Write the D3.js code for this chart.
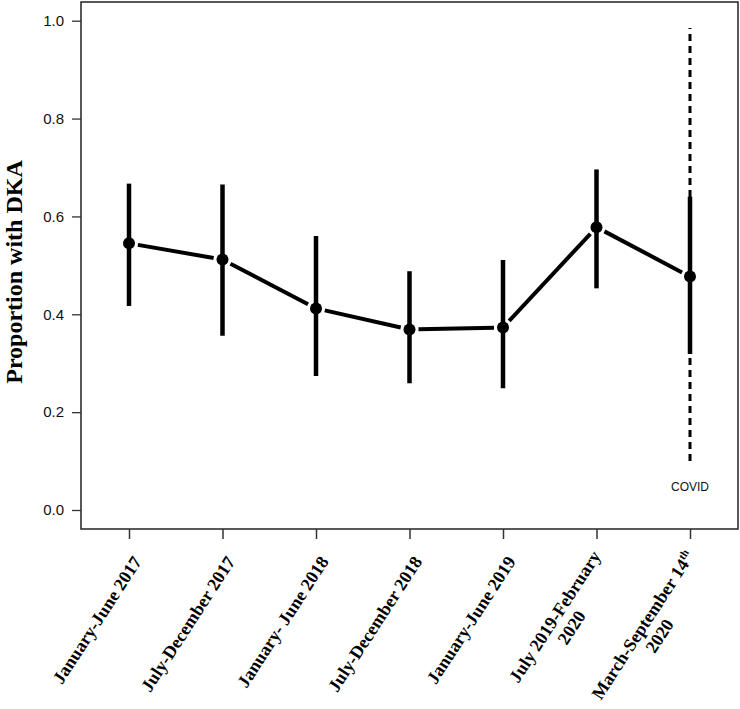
<!DOCTYPE html>
<html><head><meta charset="utf-8">
<script src="https://cdn.jsdelivr.net/npm/d3@7"></script>
<style>body{margin:0;background:#fff}</style>
</head><body>
<svg id="c" width="740" height="709"></svg>
<script>
const categories = ["January-June 2017","July-December 2017","January- June 2018","July-December 2018","January-June 2019","July 2019-February 2020","March-September 14th 2020"];
const labelLines = [["January-June 2017"],["July-December 2017"],["January- June 2018"],["July-December 2018"],["January-June 2019"],["July 2019-February","2020"],["March-September 14|th","2020"]];
const proportion = [0.545,0.512,0.412,0.369,0.373,0.578,0.477];
const lower = [0.417,0.356,0.274,0.259,0.249,0.453,0.319];
const upper = [0.667,0.665,0.560,0.488,0.511,0.696,0.640];
const yTicks = [0.0,0.2,0.4,0.6,0.8,1.0];
const covidRange = [0.10,0.985];
const covidLabel = "COVID";
const yTitle = "Proportion with DKA";

const svg = d3.select("#c");
const box = {l:81, r:738, t:2, b:529};
const x = d3.scalePoint().domain(categories).range([129,690]);
const y = d3.scaleLinear().domain([0,1]).range([510,20.7]);

// box
svg.append("rect").attr("x",box.l).attr("y",box.t).attr("width",box.r-box.l).attr("height",box.b-box.t)
  .attr("fill","none").attr("stroke","#222").attr("stroke-width",1.5);

// y axis
const yAxis = d3.axisLeft(y).tickValues(yTicks).tickFormat(d3.format(".1f")).tickSize(9).tickPadding(8);
const ga = svg.append("g").attr("transform",`translate(${box.l},0)`).call(yAxis);
ga.select(".domain").remove();
ga.selectAll(".tick line").attr("stroke","#333").attr("stroke-width",1.3);
ga.selectAll(".tick text").attr("font-family","Liberation Sans, Arial, sans-serif").attr("font-size",15).attr("fill","#111");

// x axis
const xAxis = d3.axisBottom(x).tickSize(10).tickFormat("");
const gx = svg.append("g").attr("transform",`translate(0,${box.b})`).call(xAxis);
gx.select(".domain").remove();
gx.selectAll(".tick line").attr("stroke","#333").attr("stroke-width",1.5);

// x labels
const ang = -57;
const rad = ang*Math.PI/180;
const fs = 18;
const lh = 20;
categories.forEach((c,i)=>{
  const lines = labelLines[i];
  let ax = x(c)+8, ay = 558;
  if(lines.length>1){ // shift block up by half a line (perpendicular)
    ax -= Math.sin(-rad)*lh/2; ay -= Math.cos(rad)*lh/2;
  }
  const g = svg.append("g").attr("transform",`translate(${ax},${ay}) rotate(${ang})`);
  const t1 = g.append("text").attr("text-anchor","end").attr("dy","0.35em")
    .attr("font-family","Liberation Serif, Times New Roman, serif").attr("font-weight","bold").attr("font-size",fs);
  const parts = lines[0].split("|");
  t1.append("tspan").text(parts[0]);
  if(parts[1]) t1.append("tspan").attr("font-size",11).attr("dy","-0.6em").text(parts[1]);
  if(lines.length>1){
    const w = t1.node().getComputedTextLength();
    g.append("text").attr("text-anchor","middle").attr("x",-w/2).attr("y",lh).attr("dy","0.35em")
      .attr("font-family","Liberation Serif, Times New Roman, serif").attr("font-weight","bold").attr("font-size",fs)
      .text(lines[1]);
  }
});

// y title
svg.append("text").attr("transform",`translate(22,272) rotate(-90)`).attr("text-anchor","middle")
  .attr("font-family","Liberation Serif, Times New Roman, serif").attr("font-weight","bold").attr("font-size",24)
  .text(yTitle);

// covid dashed line
const lc = categories[categories.length-1];
svg.append("line").attr("x1",x(lc)).attr("x2",x(lc)).attr("y1",y(covidRange[0])).attr("y2",y(covidRange[1]))
  .attr("stroke","#000").attr("stroke-width",3).attr("stroke-dasharray","7,5");
svg.append("text").attr("x",x(lc)).attr("y",y(0.047)).attr("text-anchor","middle").attr("dy","0.35em")
  .attr("font-family","Liberation Sans, Arial, sans-serif").attr("font-size",12).attr("fill","#111").text(covidLabel);

// error bars
svg.selectAll(".eb").data(categories).enter().append("line")
  .attr("x1",d=>x(d)).attr("x2",d=>x(d)).attr("y1",(d,i)=>y(lower[i])).attr("y2",(d,i)=>y(upper[i]))
  .attr("stroke","#000").attr("stroke-width",4.5);

// connecting segments with gaps
const gap = 9;
for(let i=0;i<categories.length-1;i++){
  const x1=x(categories[i]), y1=y(proportion[i]), x2=x(categories[i+1]), y2=y(proportion[i+1]);
  const L=Math.hypot(x2-x1,y2-y1), ux=(x2-x1)/L, uy=(y2-y1)/L;
  svg.append("line").attr("x1",x1+ux*gap).attr("y1",y1+uy*gap).attr("x2",x2-ux*gap).attr("y2",y2-uy*gap)
    .attr("stroke","#000").attr("stroke-width",4);
}
// points
svg.selectAll(".pt").data(categories).enter().append("circle")
  .attr("cx",d=>x(d)).attr("cy",(d,i)=>y(proportion[i])).attr("r",6).attr("fill","#000");
</script>
</body></html>
